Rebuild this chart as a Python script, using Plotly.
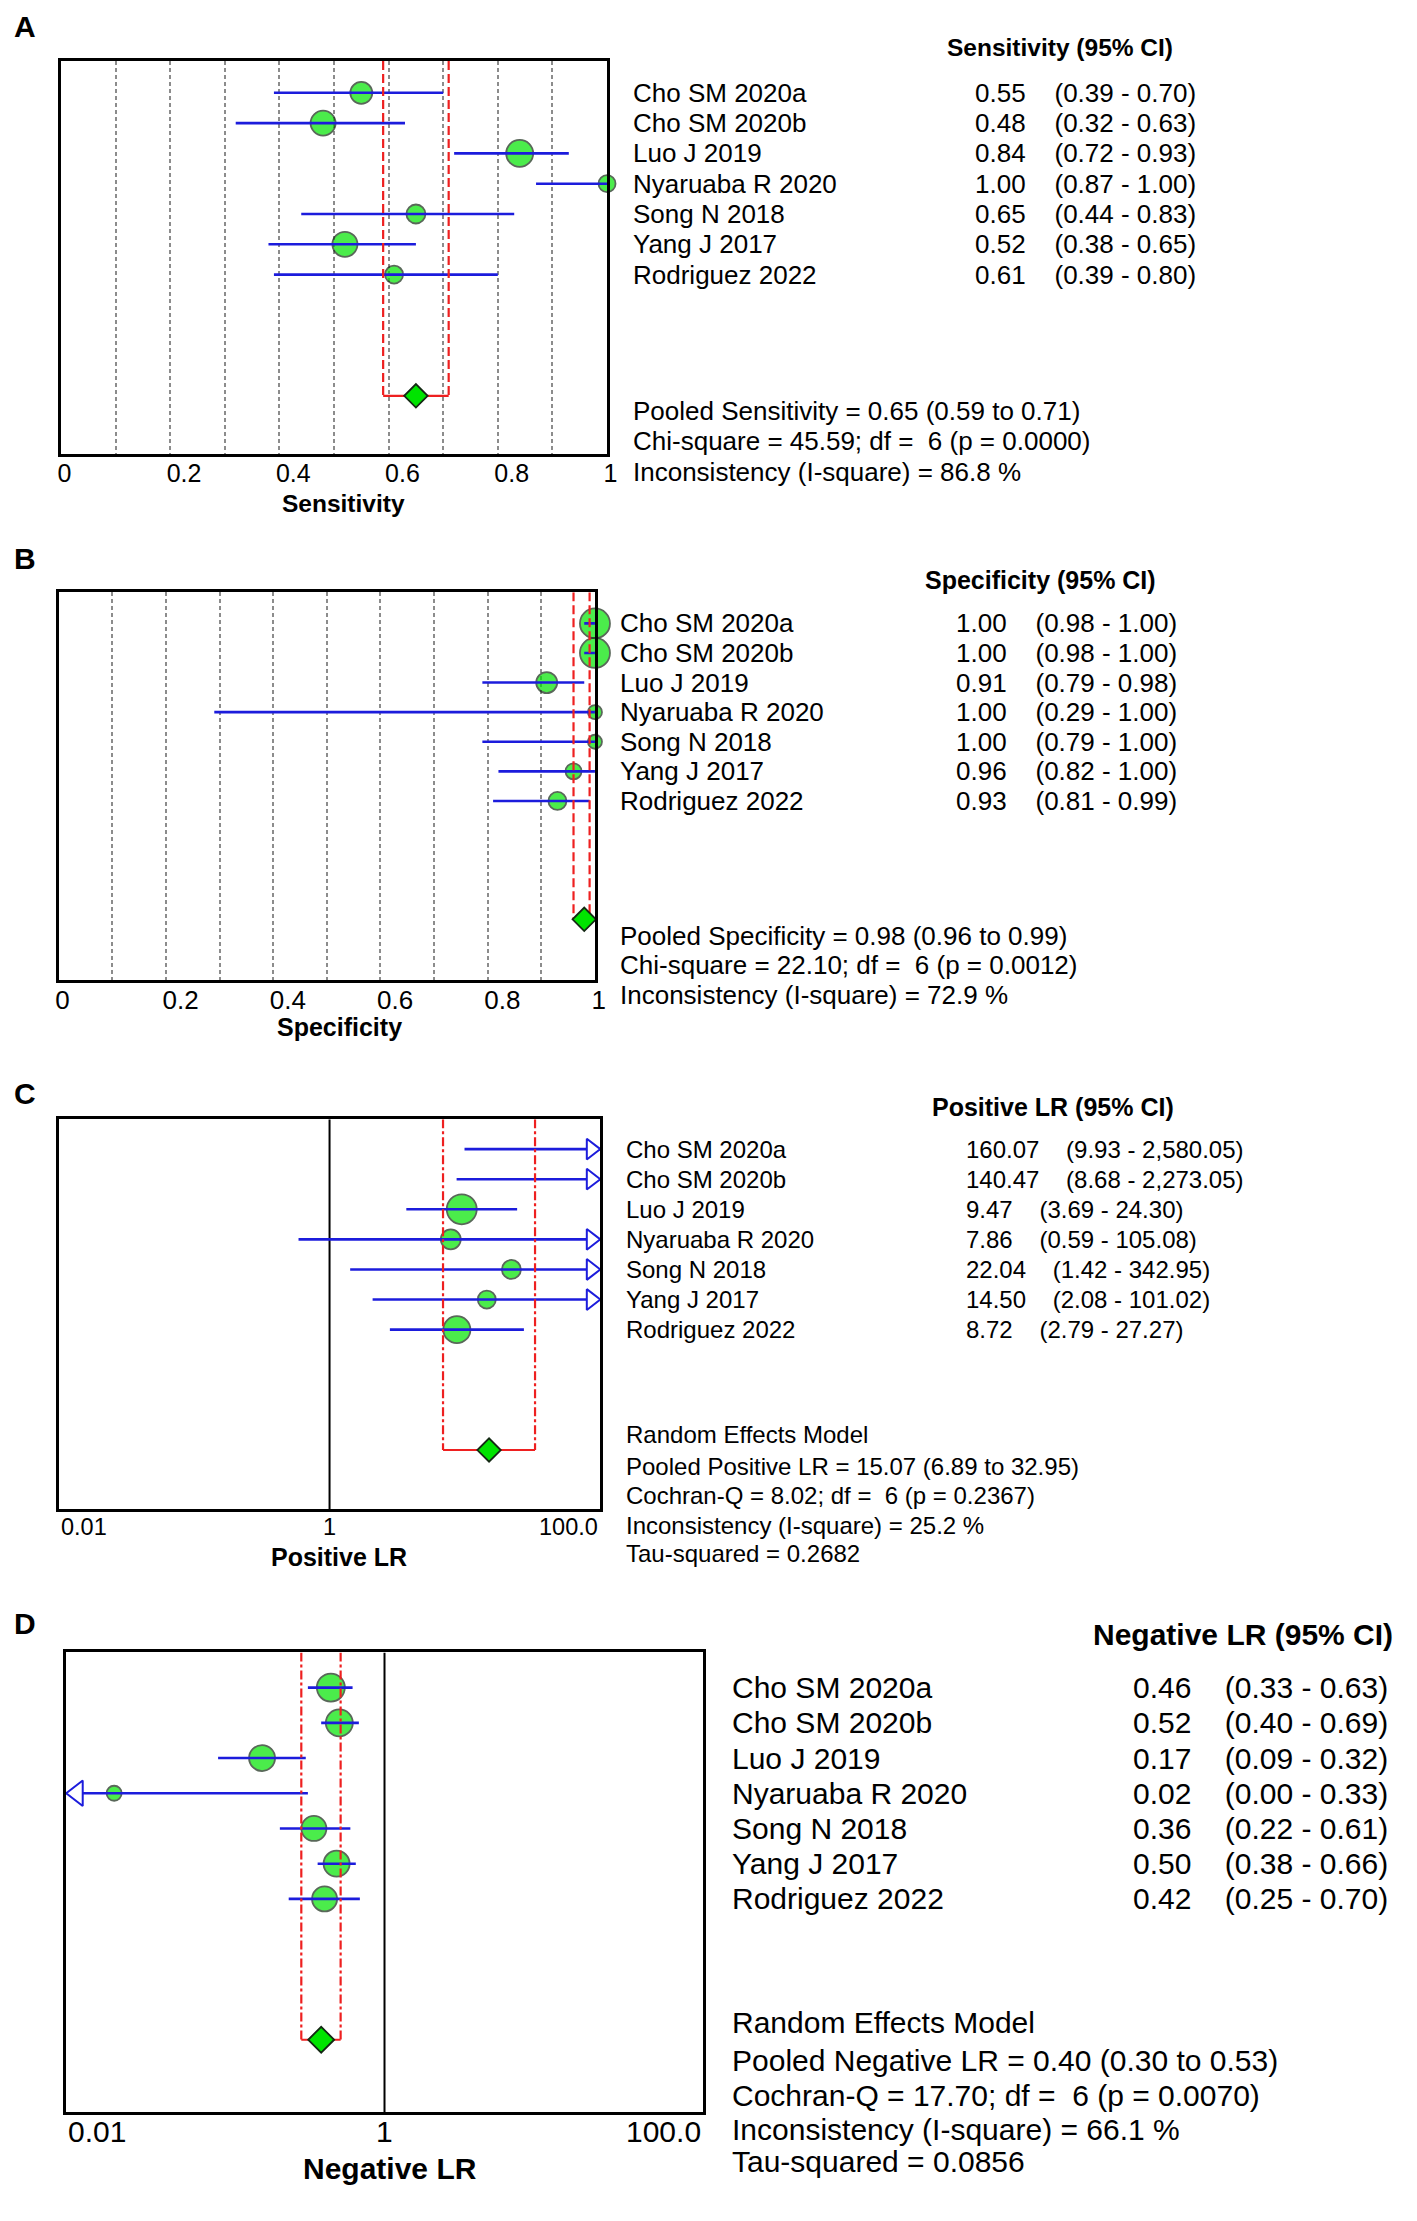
import math
import plotly.graph_objects as go

# ---------------- data ----------------
STUDIES = ["Cho SM 2020a", "Cho SM 2020b", "Luo J 2019", "Nyaruaba R 2020",
           "Song N 2018", "Yang J 2017", "Rodriguez 2022"]

SENS_EST = [0.55, 0.48, 0.84, 1.00, 0.65, 0.52, 0.61]
SENS_LO = [0.39, 0.32, 0.72, 0.87, 0.44, 0.38, 0.39]
SENS_HI = [0.70, 0.63, 0.93, 1.00, 0.83, 0.65, 0.80]
SENS_POOLED = [0.65, 0.59, 0.71]

SPEC_EST = [1.00, 1.00, 0.91, 1.00, 1.00, 0.96, 0.93]
SPEC_LO = [0.98, 0.98, 0.79, 0.29, 0.79, 0.82, 0.81]
SPEC_HI = [1.00, 1.00, 0.98, 1.00, 1.00, 1.00, 0.99]
SPEC_POOLED = [0.98, 0.96, 0.99]

PLR_EST = [160.07, 140.47, 9.47, 7.86, 22.04, 14.50, 8.72]
PLR_LO = [9.93, 8.68, 3.69, 0.59, 1.42, 2.08, 2.79]
PLR_HI = [2580.05, 2273.05, 24.30, 105.08, 342.95, 101.02, 27.27]
PLR_POOLED = [15.07, 6.89, 32.95]

NLR_EST = [0.46, 0.52, 0.17, 0.02, 0.36, 0.50, 0.42]
NLR_LO = [0.33, 0.40, 0.09, 0.00, 0.22, 0.38, 0.25]
NLR_HI = [0.63, 0.69, 0.32, 0.33, 0.61, 0.66, 0.70]
NLR_POOLED = [0.40, 0.30, 0.53]

SENS_STATS = ["Pooled Sensitivity = 0.65 (0.59 to 0.71)",
              "Chi-square = 45.59; df = \u00a06 (p = 0.0000)",
              "Inconsistency (I-square) = 86.8 %"]
SPEC_STATS = ["Pooled Specificity = 0.98 (0.96 to 0.99)",
              "Chi-square = 22.10; df = \u00a06 (p = 0.0012)",
              "Inconsistency (I-square) = 72.9 %"]
PLR_STATS = ["Random Effects Model",
             "Pooled Positive LR = 15.07 (6.89 to 32.95)",
             "Cochran-Q = 8.02; df = \u00a06 (p = 0.2367)",
             "Inconsistency (I-square) = 25.2 %",
             "Tau-squared = 0.2682"]
NLR_STATS = ["Random Effects Model",
             "Pooled Negative LR = 0.40 (0.30 to 0.53)",
             "Cochran-Q = 17.70; df = \u00a06 (p = 0.0070)",
             "Inconsistency (I-square) = 66.1 %",
             "Tau-squared = 0.0856"]

HEADERS = ["Sensitivity (95% CI)", "Specificity (95% CI)",
           "Positive LR (95% CI)", "Negative LR (95% CI)"]
AXIS_TITLES = ["Sensitivity", "Specificity", "Positive LR", "Negative LR"]
LETTERS = ["A", "B", "C", "D"]

LR_TICKS = [0.01, 1, 100]
LR_TICKTEXT = ["0.01", "1", "100.0"]

# ---------------- style / layout ----------------
W, H = 1417, 2221
OFF = 8  # page body margin
FONT = "Liberation Sans, Arial, sans-serif"
GREEN = "#00e400"
OUTLINE = "#142814"
BLUE = "#1c1cdc"
RED = "#ee2020"
GRID = "#8c8c8c"
GAP = "\u00a0" * 4
POOLED_ROW = len(STUDIES) + 3
TICK_ANCHORS = ["left", "center", "right"]

PANELS = [
    dict(est=SENS_EST, lo=SENS_LO, hi=SENS_HI, pooled=SENS_POOLED, stats=SENS_STATS,
         log=False, box=(57.5, 609.4, 61, 454), yrange=(11.92, -1.05),
         sizes=[22, 25, 27, 17, 19, 25, 18], dsize=18, arrow=18,
         fs=26, bfs=24.5, tfs=25, name_x=634, val_x=979, head_x=1067, head_y=-1.48,
         stat_y=[10.5, 11.5, 12.5], tick_y=473, title_x=343, title_y=503,
         letter_y=20, reddash="9px,4px"),
    dict(est=SPEC_EST, lo=SPEC_LO, hi=SPEC_HI, pooled=SPEC_POOLED, stats=SPEC_STATS,
         log=False, box=(55.3, 597.2, 592.3, 980), yrange=(12.05, -1.05),
         sizes=[30, 30, 21, 14, 14, 16, 18], dsize=18, arrow=18,
         fs=26, bfs=25, tfs=26, name_x=620, val_x=960, head_x=1048, head_y=-1.46,
         stat_y=[10.55, 11.55, 12.55], tick_y=997, title_x=339, title_y=1027,
         letter_y=557, reddash="9px,4px"),
    dict(est=PLR_EST, lo=PLR_LO, hi=PLR_HI, pooled=PLR_POOLED, stats=PLR_STATS,
         log=True, box=(55.3, 602.6, 1119.3, 1509.3), yrange=(11.97, -0.99),
         sizes=[18, 18, 30, 20, 19, 18, 27], dsize=18, arrow=18,
         fs=24, bfs=25, tfs=23.5, name_x=627, val_x=970, head_x=1060, head_y=-1.4,
         stat_y=[9.5, 10.55, 11.5, 12.5, 13.45], tick_y=1527, title_x=338, title_y=1557,
         letter_y=1092, reddash="dashdot"),
    dict(est=NLR_EST, lo=NLR_LO, hi=NLR_HI, pooled=NLR_POOLED, stats=NLR_STATS,
         log=True, box=(62.8, 706.2, 1652.4, 2112.3), yrange=(12.06, -1.0),
         sizes=[28, 27, 26, 15, 25, 26, 25], dsize=20, arrow=22,
         fs=30, bfs=30, tfs=30, name_x=734, val_x=1139, head_x=1252, head_y=-1.52,
         stat_y=[9.5, 10.6, 11.57, 12.55, 13.46], tick_y=2131, title_x=390, title_y=2168,
         letter_y=1622, reddash="dashdot"),
]


def px(xp):
    return (xp - OFF) / W


def py(yp):
    return 1 - (yp - OFF) / H


def row_px(cfg, r):
    """page pixel y of a row position, through the panel's y scale"""
    ybot, ytop = cfg["yrange"]
    _, _, y0, y1 = cfg["box"]
    return y0 + (r - ytop) / (ybot - ytop) * (y1 - y0)


fig = go.Figure()
annotations = []
layout_axes = {}

for i, (cfg, header, atitle, letter) in enumerate(zip(PANELS, HEADERS, AXIS_TITLES, LETTERS)):
    n = i + 1
    xa = "x" if n == 1 else f"x{n}"
    ya = "y" if n == 1 else f"y{n}"
    xkey = "xaxis" if n == 1 else f"xaxis{n}"
    ykey = "yaxis" if n == 1 else f"yaxis{n}"
    is_log = cfg["log"]
    xmin, xmax = (LR_TICKS[0], LR_TICKS[-1]) if is_log else (0.0, 1.0)
    rows = list(range(len(STUDIES)))
    ybot, ytop = cfg["yrange"]
    common = dict(xaxis=xa, yaxis=ya, showlegend=False, hoverinfo="skip")

    # reference line at LR = 1
    if is_log:
        fig.add_trace(go.Scatter(x=[1, 1], y=[ybot, ytop], mode="lines",
                                 line=dict(color="black", width=2), **common))

    # study markers
    fig.add_trace(go.Scatter(
        x=cfg["est"], y=rows, mode="markers", cliponaxis=is_log,
        marker=dict(symbol="circle", size=cfg["sizes"], color=GREEN,
                    line=dict(color=OUTLINE, width=1.8)), **common))

    # confidence interval lines (clipped to axis range)
    xs, ys = [], []
    for r, l, h in zip(rows, cfg["lo"], cfg["hi"]):
        xs += [max(l, xmin), min(h, xmax), None]
        ys += [r, r, None]
    fig.add_trace(go.Scatter(x=xs, y=ys, mode="lines",
                             line=dict(color=BLUE, width=2.6), **common))

    # pooled bracket
    p, plo, phi = cfg["pooled"]
    fig.add_trace(go.Scatter(x=[plo, plo, None, phi, phi],
                             y=[ytop, POOLED_ROW, None, ytop, POOLED_ROW],
                             mode="lines", line=dict(color=RED, width=2.2, dash=cfg["reddash"]),
                             **common))
    fig.add_trace(go.Scatter(x=[plo, phi], y=[POOLED_ROW, POOLED_ROW], mode="lines",
                             line=dict(color=RED, width=2.2), **common))
    fig.add_trace(go.Scatter(x=[p], y=[POOLED_ROW], mode="markers", cliponaxis=False,
                             marker=dict(symbol="diamond", size=cfg["dsize"], color=GREEN,
                                         line=dict(color=OUTLINE, width=1.8)), **common))

    # arrows for intervals running off the axis
    ax_x, ax_y, ax_ang = [], [], []
    for r, l, h in zip(rows, cfg["lo"], cfg["hi"]):
        if h > xmax:
            ax_x.append(xmax); ax_y.append(r); ax_ang.append(90)
        if l < xmin:
            ax_x.append(xmin); ax_y.append(r); ax_ang.append(-90)
    if ax_x:
        fig.add_trace(go.Scatter(
            x=ax_x, y=ax_y, mode="markers", cliponaxis=False,
            marker=dict(symbol="triangle-up", size=cfg["arrow"], angle=ax_ang,
                        standoff=cfg["arrow"] / 2, color="white",
                        line=dict(color=BLUE, width=2)), **common))

    # axes
    x0, x1, y0, y1 = cfg["box"]
    xaxis = dict(domain=[px(x0), px(x1)], anchor=ya, showline=True, mirror=True,
                 linecolor="black", linewidth=3, zeroline=False, ticks="")
    if is_log:
        xaxis.update(type="log", range=[math.log10(xmin), math.log10(xmax)],
                     showgrid=False, showticklabels=False)
        for v, t, anc in zip(LR_TICKS, LR_TICKTEXT, TICK_ANCHORS):
            annotations.append(dict(xref=xa, yref="paper", x=math.log10(v), y=py(cfg["tick_y"]),
                                    text=t, showarrow=False, xanchor=anc, yanchor="middle",
                                    font=dict(family=FONT, size=cfg["tfs"], color="black")))
    else:
        gridspec = dict(showgrid=True, gridcolor=GRID, griddash="4px,3px", gridwidth=1.5)
        xaxis.update(type="linear", range=[xmin, xmax], tick0=0, dtick=0.2,
                     ticklabelposition="outside right", ticklabelshift=-5,
                     ticklabelstandoff=-5,
                     tickfont=dict(family=FONT, size=cfg["tfs"], color="black"),
                     minor=dict(tick0=0, dtick=0.1, **gridspec), **gridspec)
    layout_axes[xkey] = xaxis
    layout_axes[ykey] = dict(domain=[py(y1), py(y0)], anchor=xa, range=[ybot, ytop],
                             showline=True, mirror=True, linecolor="black", linewidth=3,
                             showgrid=False, zeroline=False, showticklabels=False, ticks="")

    # right-hand text (paper coordinates, rows mapped through the panel scale)
    tfont = dict(family=FONT, size=cfg["fs"], color="black")
    annotations.append(dict(xref="paper", yref="paper", x=px(cfg["head_x"]),
                            y=py(row_px(cfg, cfg["head_y"])),
                            text=f"<b>{header}</b>", showarrow=False, xanchor="center",
                            yanchor="middle",
                            font=dict(family=FONT, size=cfg["bfs"], color="black")))
    for r, name, e, l, h in zip(rows, STUDIES, cfg["est"], cfg["lo"], cfg["hi"]):
        yy = py(row_px(cfg, r))
        annotations.append(dict(xref="paper", yref="paper", x=px(cfg["name_x"]), y=yy, text=name,
                                showarrow=False, xanchor="left", yanchor="middle", font=tfont))
        annotations.append(dict(xref="paper", yref="paper", x=px(cfg["val_x"]), y=yy,
                                text=f"{e:,.2f}{GAP}({l:,.2f} - {h:,.2f})",
                                showarrow=False, xanchor="left", yanchor="middle", font=tfont))
    for sy, st in zip(cfg["stat_y"], cfg["stats"]):
        annotations.append(dict(xref="paper", yref="paper", x=px(cfg["name_x"]),
                                y=py(row_px(cfg, sy)), text=st,
                                showarrow=False, xanchor="left", yanchor="middle", font=tfont))

    # axis title and panel letter
    annotations.append(dict(xref="paper", yref="paper", x=px(cfg["title_x"]), y=py(cfg["title_y"]),
                            text=f"<b>{atitle}</b>", showarrow=False, xanchor="center",
                            yanchor="middle",
                            font=dict(family=FONT, size=cfg["bfs"], color="black")))
    annotations.append(dict(xref="paper", yref="paper", x=px(8),
                            y=py(max(cfg["letter_y"] - 17, OFF)),
                            text=f"<b>{letter}</b>", showarrow=False, xanchor="left",
                            yanchor="top", font=dict(family=FONT, size=30, color="black")))

fig.update_layout(width=W, height=H, autosize=False,
                  margin=dict(l=0, r=0, t=0, b=0, pad=0),
                  paper_bgcolor="white", plot_bgcolor="white",
                  font=dict(family=FONT, color="black"),
                  annotations=annotations, **layout_axes)

fig.write_html("out.html")
